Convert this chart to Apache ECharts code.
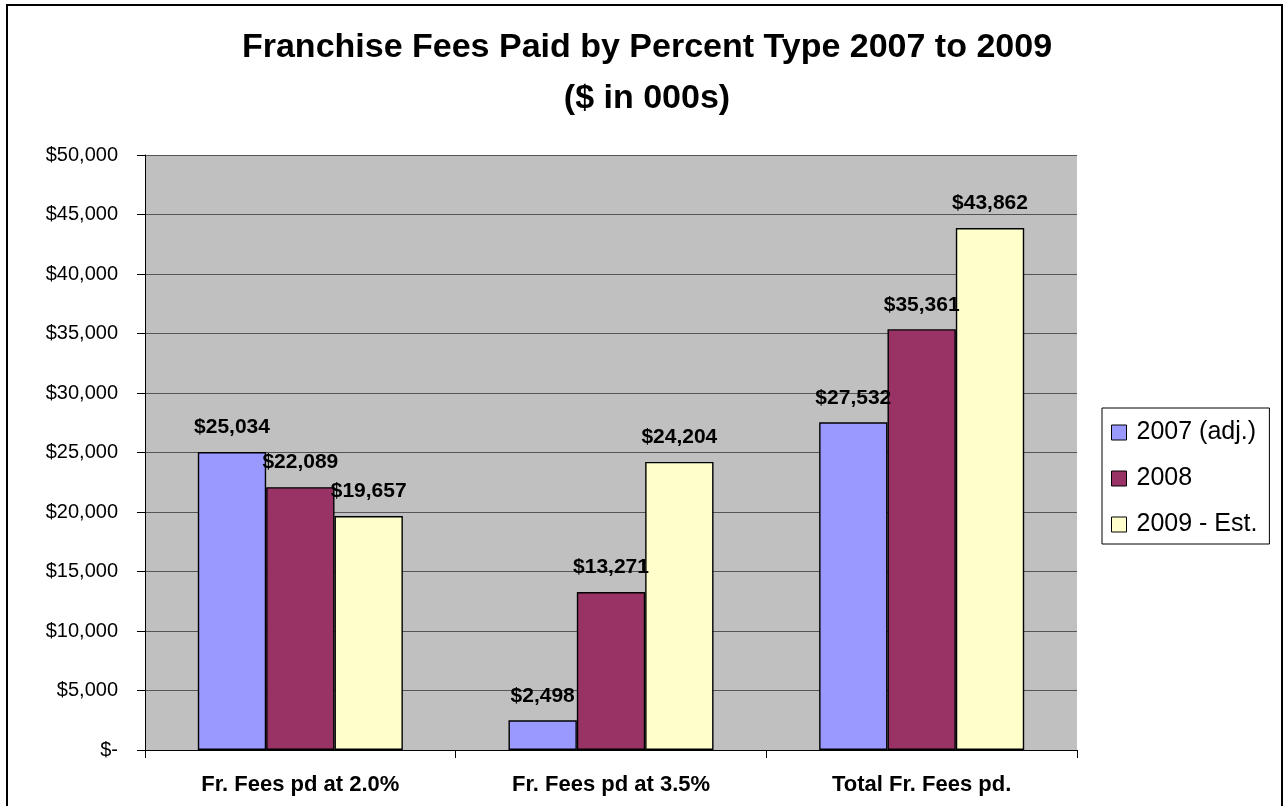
<!DOCTYPE html>
<html lang="en">
<head>
  <meta charset="UTF-8">
  <title>Franchise Fees Paid by Percent Type</title>
  <script src="https://cdn.jsdelivr.net/npm/echarts@6/dist/echarts.min.js"></script>
  <style>
    html, body { margin: 0; padding: 0; background: #fff; }
    #chart { width: 1284px; height: 806px; }
  </style>
</head>
<body>
  <div id="chart"></div>

  <script>
    // data
    const categories = ['Fr. Fees pd at 2.0%', 'Fr. Fees pd at 3.5%', 'Total Fr. Fees pd.']
    const seriesNames = ['2007 (adj.)', '2008', '2009 - Est.']
    const fees2007 = [25034, 2498, 27532]
    const fees2008 = [22089, 13271, 35361]
    const fees2009 = [19657, 24204, 43862]
    const colors = ['#9999ff', '#993366', '#ffffcc']

    const money = v => v === 0 ? '$-' : '$' + v.toLocaleString('en-US')

    const chart = echarts.init(document.getElementById('chart'), null, {renderer: 'canvas'})

    const makeSeries = (name, data, i) => ({
      name: name,
      type: 'bar',
      data: data,
      barGap: '0%',
      barCategoryGap: '34%',
      itemStyle: { color: colors[i], borderColor: '#000', borderWidth: 1.4 },
      label: {
        show: true,
        position: 'top',
        distance: 14,
        formatter: p => money(p.value),
        fontFamily: 'Liberation Sans, Arial',
        fontWeight: 'bold',
        fontSize: 21,
        color: '#000'
      }
    })

    chart.setOption({
      animation: false,
      textStyle: { fontFamily: 'Liberation Sans, Arial' },
      title: {
        text: 'Franchise Fees Paid by Percent Type 2007 to 2009\n($ in 000s)',
        left: 642,
        textAlign: 'center',
        top: 17,
        textStyle: { fontSize: 34, fontWeight: 'bold', color: '#000', lineHeight: 51 }
      },
      legend: {
        orient: 'vertical',
        left: 1102,
        top: 408,
        padding: [12, 12, 7, 9],
        itemGap: 21,
        itemWidth: 15,
        itemHeight: 15,
        icon: 'rect',
        borderColor: '#000',
        borderWidth: 1,
        data: seriesNames,
        itemStyle: { borderColor: '#000', borderWidth: 1 },
        textStyle: { fontSize: 25, color: '#000', padding: [0, 0, 0, 5] }
      },
      grid: {
        left: 145,
        right: 207,
        top: 155,
        bottom: 56,
        show: true,
        backgroundColor: '#c0c0c0',
        borderWidth: 0
      },
      xAxis: {
        type: 'category',
        data: categories,
        axisLine: { lineStyle: { color: '#000', width: 1 } },
        axisTick: { show: true, inside: false, length: 8, lineStyle: { color: '#000' } },
        axisLabel: { fontSize: 22, fontWeight: 'bold', color: '#000', margin: 24 },
        splitLine: { show: false }
      },
      yAxis: {
        type: 'value',
        min: 0,
        max: 50000,
        interval: 5000,
        axisLine: { show: true, lineStyle: { color: '#000', width: 1 } },
        axisTick: { show: true, length: 8, lineStyle: { color: '#000' } },
        axisLabel: { fontSize: 20, color: '#000', margin: 27, formatter: v => money(v) },
        splitLine: { show: true, lineStyle: { color: '#555', width: 1 } }
      },
      graphic: [
        {
          type: 'polyline',
          shape: { points: [[7, 806], [7, 5], [1282, 5], [1282, 806]] },
          style: { stroke: '#000', lineWidth: 2, fill: null }
        }
      ],
      series: [
        makeSeries(seriesNames[0], fees2007, 0),
        makeSeries(seriesNames[1], fees2008, 1),
        makeSeries(seriesNames[2], fees2009, 2)
      ]
    })
  </script>
</body>
</html>
